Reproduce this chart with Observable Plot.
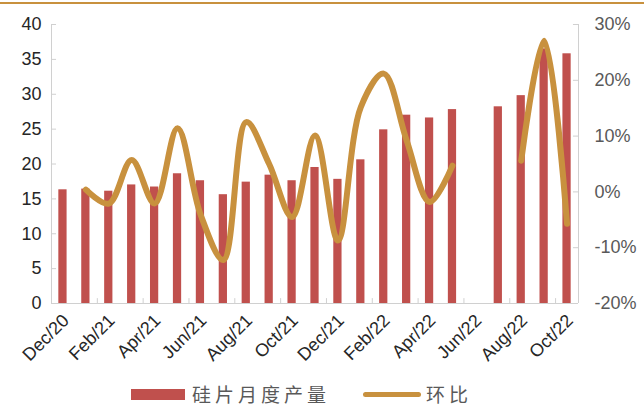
<!DOCTYPE html>
<html>
<head>
<meta charset="utf-8">
<script src="https://cdn.jsdelivr.net/npm/d3@7"></script>
<script src="https://cdn.jsdelivr.net/npm/@observablehq/plot@0.6"></script>
<style>
  html, body { margin: 0; padding: 0; background: #fff; width: 644px; height: 408px; overflow: hidden; position: relative; }
  #topline { position: absolute; left: 0; top: 2px; width: 644px; height: 2px; background: #C8913E; }
  #chart { position: absolute; left: 0; top: 0; }
  #legend { position: absolute; left: 0; top: 380px; width: 644px; height: 28px; font-family: "Noto Sans CJK SC", sans-serif; color: #595959; font-size: 19px; }
  .sw { position: absolute; }
  .lt { position: absolute; top: 0; line-height: 28px; letter-spacing: 4px; white-space: nowrap; }
</style>
</head>
<body>
<div id="chart"></div>
<div id="topline"></div>
<div id="legend">
  <div class="sw" style="left:131px; top:9px; width:54px; height:11px; background:#C0504D;"></div>
  <div class="lt" style="left:192px; width:160px;">硅片月度产量</div>
  <div class="sw" style="left:363px; top:12px; width:58px; height:5px; border-radius:3px; background:#C8913E;"></div>
  <div class="lt" style="left:426px; width:60px;">环比</div>
</div>
<script>
const months = ["Dec/20","Jan/21","Feb/21","Mar/21","Apr/21","May/21","Jun/21","Jul/21","Aug/21","Sep/21","Oct/21","Nov/21","Dec/21","Jan/22","Feb/22","Mar/22","Apr/22","May/22","Jun/22","Jul/22","Aug/22","Sep/22","Oct/22"];
const output = [16.3,16.4,16.1,17.0,16.7,18.6,17.6,15.6,17.4,18.4,17.6,19.5,17.8,20.6,24.9,27.0,26.6,27.8,null,28.2,29.8,36.5,35.8];
const mom = [null,0.4,-2.1,5.7,-2.1,11.4,-4.0,-12.2,12.5,5.0,-4.5,10.1,-8.7,15.2,21.2,9.2,-1.8,4.7,null,null,5.6,27.1,-5.7];
const leftTicks = [0,5,10,15,20,25,30,35,40];
const rightTicks = [-20,-10,0,10,20,30];
const xLabelIdx = [0,2,4,6,8,10,12,14,16,18,20,22];

const toLeft = p => (p + 20) * 0.8;
const rows = months.map((m, i) => ({i, m, v: output[i], p: mom[i] == null ? NaN : toLeft(mom[i])}));
const barRows = rows.filter(d => d.v != null);
const boundaries = [1.5,3.5,5.5,7.5,9.5,11.5,13.5,15.5,17.5,19.5,21.5];
const half = 0.18;
const axisGray = "#d0d0d0";

const chart = Plot.plot({
  width: 644, height: 372,
  marginTop: 24, marginBottom: 69, marginLeft: 51, marginRight: 66,
  style: {fontFamily: "'Liberation Sans', Arial, sans-serif", fontSize: "18px", background: "transparent"},
  x: {type: "linear", domain: [-0.5, 22.5]},
  y: {domain: [0, 40]},
  marks: [
    Plot.rectY(barRows, {x1: d => d.i - half, x2: d => d.i + half, y1: 0, y2: "v", fill: "#C0504D"}),
    Plot.ruleY([0], {x1: -0.5, x2: 22.5, stroke: axisGray, strokeWidth: 1}),
    Plot.ruleX([-0.5], {y1: 0, y2: 40, stroke: axisGray}),
    Plot.ruleX([22.5], {y1: 0, y2: 40, stroke: axisGray}),
    Plot.ruleY(leftTicks, {x1: -0.5, x2: -0.28, stroke: axisGray}),
    Plot.ruleY(rightTicks.map(toLeft), {x1: 22.28, x2: 22.5, stroke: axisGray}),
    Plot.ruleX(boundaries, {y1: 0, y2: 0.7, stroke: axisGray}),
    Plot.line(rows, {x: "i", y: "p", curve: "catmull-rom", stroke: "#C8913E", strokeWidth: 6, strokeLinecap: "round", strokeLinejoin: "round"}),
    Plot.axisY({anchor: "left", ticks: leftTicks, tickSize: 0, tickPadding: 10, fill: "#262626", label: null}),
    Plot.axisY({anchor: "right", ticks: rightTicks.map(toLeft), tickFormat: v => Math.round(v / 0.8 - 20) + "%", tickSize: 0, tickPadding: 16, fill: "#595959", label: null}),
    Plot.axisX({ticks: xLabelIdx, tickFormat: i => months[i], tickRotate: -45, tickSize: 0, tickPadding: 14, dx: 3, fill: "#262626", label: null})
  ]
});
document.getElementById("chart").appendChild(chart);
</script>
</body>
</html>
